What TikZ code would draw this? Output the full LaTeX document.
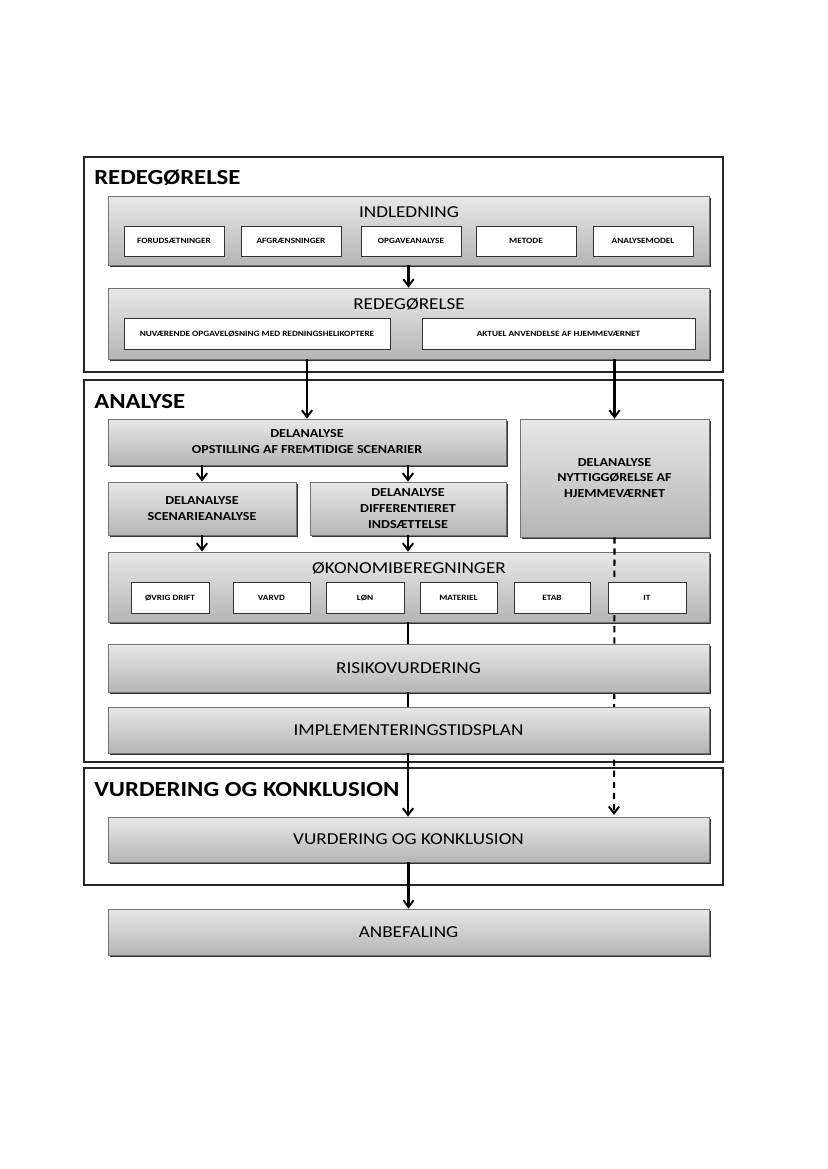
\documentclass[tikz,border=0pt]{standalone}
\usepackage{fontspec}
\setmainfont{Carlito}[FakeStretch=1.15]
\usetikzlibrary{fit,shadows,arrows.meta}
\begin{document}
\begin{tikzpicture}[x=0.72pt,y=-0.72pt,
  frame/.style={draw=black!85, line width=0.9pt, fill=white, inner sep=0pt},
  gbox/.style={draw=black!55, line width=0.5pt, top color=black!9, bottom color=black!29, inner sep=0pt,
    general shadow={fill=black!80, shadow xshift=1.3pt, shadow yshift=-1.3pt}},
  wbox/.style={draw=black!80, line width=0.6pt, fill=white, inner sep=0pt,
    general shadow={fill=black!45, shadow xshift=0.8pt, shadow yshift=-0.8pt}},
  ttl/.style={font=\fontsize{15.5}{17}\selectfont\bfseries, anchor=west, inner sep=0pt},
  head/.style={font=\fontsize{12}{14}\selectfont, inner sep=0pt},
  sm/.style={font=\fontsize{5.8}{7}\selectfont\bfseries, inner sep=0pt},
  del/.style={font=\fontsize{8.8}{11.5}\selectfont\bfseries, align=center, inner sep=0pt},
  arr/.style={line width=1.5pt, -{Straight Barb[length=5pt,width=7.5pt,line width=1.4pt]}},
  ln/.style={line width=1.5pt},
  dsh/.style={line width=1.5pt, dash pattern=on 4.5pt off 3.5pt, -{Straight Barb[length=5pt,width=7.5pt,line width=1.4pt]}}]
\useasboundingbox[fill=white] (0,0) rectangle (827,1169);

% section frames
\node[frame, fit={(84,157) (723,372)}] (f1) {};
\node[frame, fit={(84,380) (723,762)}] (f2) {};
\node[frame, fit={(84,768) (723,885)}] (f3) {};
\node[ttl] (t1) at (94,178) {REDEGØRELSE};
\node[ttl] (t2) at (94,402) {ANALYSE};
\node[ttl] (t3) at (94,790) {VURDERING OG KONKLUSION};

% INDLEDNING
\node[gbox, fit={(108,196) (709,265)}] (ind) {};
\node[head] (indt) at (409,212) {INDLEDNING};
\node[wbox, fit={(124,226) (224,256)}, label={[sm]center:FORUDSÆTNINGER}] (i1) {};
\node[wbox, fit={(241,226) (341,256)}, label={[sm]center:AFGRÆNSNINGER}] (i2) {};
\node[wbox, fit={(361,226) (461,256)}, label={[sm]center:OPGAVEANALYSE}] (i3) {};
\node[wbox, fit={(476,226) (576,256)}, label={[sm]center:METODE}] (i4) {};
\node[wbox, fit={(593,226) (693,256)}, label={[sm]center:ANALYSEMODEL}] (i5) {};

% REDEGØRELSE
\node[gbox, fit={(108,288) (709,359)}] (red) {};
\node[head] (redt) at (409,304) {REDEGØRELSE};
\node[wbox, fit={(124,318) (390,349)}, label={[sm]center:NUVÆRENDE OPGAVELØSNING MED REDNINGSHELIKOPTERE}] (r1) {};
\node[wbox, fit={(422,318) (695,349)}, label={[sm]center:AKTUEL ANVENDELSE AF HJEMMEVÆRNET}] (r2) {};

% ANALYSE
\node[gbox, fit={(108,419) (506,465)}, label={[del]center:{DELANALYSE\\OPSTILLING AF FREMTIDIGE SCENARIER}}] (opst) {};
\node[gbox, fit={(520,419) (709,537)}, label={[del]center:{DELANALYSE\\NYTTIGGØRELSE AF\\HJEMMEVÆRNET}}] (nyt) {};
\node[gbox, fit={(108,482) (296,535)}, label={[del]center:{DELANALYSE\\SCENARIEANALYSE}}] (scen) {};
\node[gbox, fit={(310,482) (506,535)}, label={[del]center:{DELANALYSE\\DIFFERENTIERET\\INDSÆTTELSE}}] (dif) {};

\node[gbox, fit={(108,552) (709,622)}] (oko) {};
\node[head] (okot) at (409,568) {ØKONOMIBEREGNINGER};
\coordinate (dashend) at (614,815);
\draw[dsh] (nyt.south) -- (dashend);
\node[wbox, fit={(131,582) (209,613)}, label={[sm]center:ØVRIG DRIFT}] (o1) {};
\node[wbox, fit={(233,582) (310,613)}, label={[sm]center:VARVD}] (o2) {};
\node[wbox, fit={(326,582) (404,613)}, label={[sm]center:LØN}] (o3) {};
\node[wbox, fit={(420,582) (497,613)}, label={[sm]center:MATERIEL}] (o4) {};
\node[wbox, fit={(514,582) (590,613)}, label={[sm]center:ETAB}] (o5) {};
\node[wbox, fit={(608,582) (686,613)}, label={[sm]center:IT}] (o6) {};

\node[gbox, fit={(108,644) (709,692)}, label={[head]center:RISIKOVURDERING}] (ris) {};
\node[gbox, fit={(108,707) (709,753)}, label={[head]center:IMPLEMENTERINGSTIDSPLAN}] (imp) {};

% VURDERING
\node[gbox, fit={(108,817) (709,862)}, label={[head]center:VURDERING OG KONKLUSION}] (vurd) {};
\node[gbox, fit={(108,909) (709,955)}, label={[head]center:ANBEFALING}] (anb) {};

% connectors
\draw[arr] (ind.south) -- (red.north);
\draw[arr] (red.south -| opst.north) -- (opst.north);
\draw[arr] (red.south -| nyt.north) -- (nyt.north);
\draw[arr] (opst.south -| scen.north) -- (scen.north);
\draw[arr] (opst.south -| dif.north) -- (dif.north);
\draw[arr] (scen.south) -- (oko.north -| scen.south);
\draw[arr] (dif.south) -- (oko.north -| dif.south);
\draw[ln] (oko.south -| dif.south) -- (ris.north -| dif.south);
\draw[ln] (ris.south -| dif.south) -- (imp.north -| dif.south);
\draw[arr] (imp.south -| dif.south) -- (vurd.north -| dif.south);
\draw[arr] (vurd.south) -- (anb.north);
\end{tikzpicture}
\end{document}
